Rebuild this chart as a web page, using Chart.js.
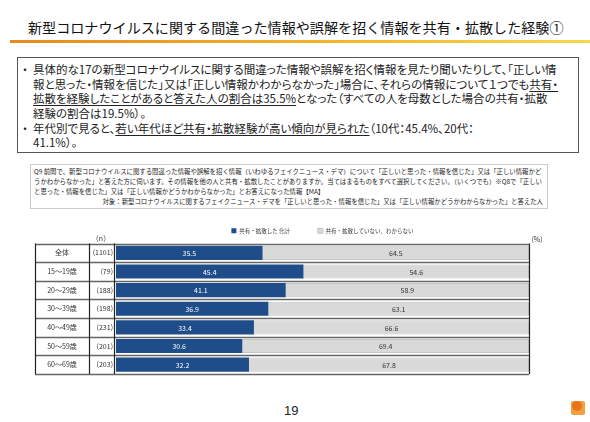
<!DOCTYPE html>
<html>
<head>
<meta charset="utf-8">
<script src="https://cdn.jsdelivr.net/npm/chart.js@4.4.1/dist/chart.umd.min.js"></script>
<style>
  body { margin: 0; width: 590px; height: 422px; background: #fff; position: relative; overflow: hidden;
         font-family: "Noto Sans CJK JP", "Noto Sans", sans-serif; color: #222; }
  .title { position: absolute; left: 28px; top: 17px; font-size: 14.1px; white-space: nowrap; color: #111; }
  .rule { position: absolute; left: 10px; top: 40px; width: 580px; height: 3px;
          background: linear-gradient(to right, #e8891c, #f2b92a 60%, #f7d84a); }
  .box { position: absolute; left: 17px; top: 57px; width: 560px; height: 94px; border: 1px solid #555; }
  .box p { margin: 0; position: absolute; left: 15px; font-size: 11.5px; line-height: 14.6px; white-space: nowrap;
           font-feature-settings: "palt"; }
  .box .b { position: absolute; left: -11px; }
  .box u { text-decoration-thickness: 1px; text-underline-offset: 2px; }
  .q { position: absolute; left: 30px; top: 164px; width: 516px; height: 43px; border: 1px solid #ccc; font-size: 6.4px;
       line-height: 10px; white-space: nowrap; }
  .q div { position: absolute; left: 3px; }
  .q .r { left: auto; right: 4px; }
  .page { position: absolute; left: 284px; top: 403px; font-family: "Liberation Sans", Arial, sans-serif; font-size: 13px; }
  .logo { position: absolute; left: 571px; top: 401px; width: 14px; height: 14px; background: #f0a040; border-radius: 2px; }
  .logo i { position: absolute; left: 1px; top: 0; width: 10px; height: 10px; border-radius: 50%; background: #e8741a; }
  #wrap { position: absolute; left: 0; top: 196px; width: 590px; height: 191px; }
</style>
</head>
<body>
<div class="title">新型コロナウイルスに関する間違った情報や誤解を招く情報を共有・拡散した経験①</div>
<div class="rule"></div>
<div class="box">
  <p style="top:4px"><span class="b">・</span>具体的な17の新型コロナウイルスに関する間違った情報や誤解を招く情報を見たり聞いたりして、「正しい情<br>報と思った・情報を信じた」又は「正しい情報かわからなかった」場合に、それらの情報について１つでも<u>共有・<br>拡散を経験したことがあると答えた人の割合は35.5%</u>となった（すべての人を母数とした場合の共有・拡散<br>経験の割合は19.5%）。</p>
  <p style="top:62.5px"><span class="b">・</span>年代別で見ると、<u>若い年代ほど共有・拡散経験が高い傾向が見られた</u>（10代：45.4%、20代：<br>41.1%）。</p>
</div>
<div class="q">
  <div style="top:2px">Q9 前問で、新型コロナウイルスに関する間違った情報や誤解を招く情報（いわゆるフェイクニュース・デマ）について「正しいと思った・情報を信じた」又は「正しい情報かど</div>
  <div style="top:12px">うかわからなかった」と答えた方に伺います。その情報を他の人と共有・拡散したことがありますか。当てはまるものをすべて選択してください。（いくつでも）※Q8で「正しい</div>
  <div style="top:22px">と思った・情報を信じた」又は「正しい情報かどうかわからなかった」とお答えになった情報【MA】</div>
  <div class="r" style="top:32px">対象：新型コロナウイルスに関するフェイクニュース・デマを「正しいと思った・情報を信じた」又は「正しい情報かどうかわからなかった」と答えた人</div>
</div>
<div id="wrap"><canvas id="chart"></canvas></div>
<div class="page">19</div>
<div class="logo"><i></i></div>

<script>
  const categories = ["全体", "15～19歳", "20～29歳", "30～39歳", "40～49歳", "50～59歳", "60～69歳"]
  const sampleSizes = ["(1101)", "(79)", "(188)", "(198)", "(231)", "(201)", "(203)"]
  const sharedValues = [35.5, 45.4, 41.1, 36.9, 33.4, 30.6, 32.2]
  const notSharedValues = [64.5, 54.6, 58.9, 63.1, 66.6, 69.4, 67.8]
  const seriesNames = ["共有・拡散した 合計", "共有・拡散していない、わからない"]

  const blue = "#1f4d8a"
  const gray = "#d9d9d9"
  const fontFamily = '"Noto Sans CJK JP", "Noto Sans", sans-serif'

  // values written in the middle of each bar segment
  const barValues = {
    id: "barValues",
    afterDatasetsDraw(chart) {
      const ctx = chart.ctx
      ctx.save()
      ctx.font = "7px " + fontFamily
      ctx.textAlign = "center"
      ctx.textBaseline = "middle"
      chart.data.datasets.forEach((ds, di) => {
        chart.getDatasetMeta(di).data.forEach((bar, i) => {
          const p = bar.getProps(["x", "y", "base"], true)
          ctx.fillStyle = di === 0 ? "#ffffff" : "#333333"
          ctx.fillText(ds.data[i].toFixed(1), (p.x + p.base) / 2, p.y + 0.5)
        })
      })
      ctx.restore()
    }
  }

  // the table on the left: label column, (n) column and the grid lines
  const tableGrid = {
    id: "tableGrid",
    afterDraw(chart) {
      const ctx = chart.ctx
      const area = chart.chartArea
      const y = chart.scales.y
      const rowH = (area.bottom - area.top) / categories.length
      const xTable = area.left - 81
      const xN = area.left - 27
      const xBars = area.left - 2
      ctx.save()
      ctx.strokeStyle = "#666"
      ctx.lineWidth = 1.3
      for (let i = 0; i <= categories.length; i++) {
        const yy = Math.round(area.top + i * rowH) + 0.5
        ctx.beginPath()
        ctx.moveTo(xTable, yy)
        ctx.lineTo(area.right, yy)
        ctx.stroke()
      }
      ctx.strokeStyle = "#222"
      ctx.lineWidth = 1.2
      ;[xTable, xN, xBars, area.right].forEach(x => {
        ctx.beginPath()
        ctx.moveTo(Math.round(x) + 0.5, area.top)
        ctx.lineTo(Math.round(x) + 0.5, area.bottom)
        ctx.stroke()
      })
      ctx.fillStyle = "#333"
      ctx.font = "7px " + fontFamily
      ctx.textBaseline = "middle"
      categories.forEach((name, i) => {
        const cy = y.getPixelForValue(i)
        ctx.textAlign = "center"
        ctx.fillText(name, (xTable + xN) / 2, cy)
        ctx.textAlign = "right"
        ctx.fillText(sampleSizes[i], xBars - 1, cy)
      })
      ctx.textAlign = "center"
      ctx.fillText("（n）", xN + 12, area.top - 5)
      ctx.fillText("(%)", area.right + 8, area.top - 4)
      ctx.restore()
    }
  }

  new Chart(document.getElementById("chart").getContext("2d"), {
    type: "bar",
    data: {
      labels: categories,
      datasets: [{
        label: seriesNames[0],
        data: sharedValues,
        backgroundColor: blue,
        borderWidth: 0,
        barPercentage: 0.76,
        categoryPercentage: 1
      }, {
        label: seriesNames[1],
        data: notSharedValues,
        backgroundColor: gray,
        borderColor: "#c4c4c4",
        borderWidth: 1,
        barPercentage: 0.76,
        categoryPercentage: 1
      }]
    },
    options: {
      indexAxis: "y",
      responsive: true,
      maintainAspectRatio: false,
      animation: false,
      layout: { padding: { left: 116, right: 61, top: 4, bottom: 13 } },
      scales: {
        x: { stacked: true, min: 0, max: 100, display: false },
        y: { stacked: true, display: false }
      },
      plugins: {
        tooltip: { enabled: false },
        legend: {
          display: true,
          position: "top",
          labels: {
            boxWidth: 5,
            boxHeight: 5,
            padding: 28,
            color: "#333",
            font: { size: 5.5, family: fontFamily }
          }
        }
      }
    },
    plugins: [barValues, tableGrid]
  });
</script>
</body>
</html>
